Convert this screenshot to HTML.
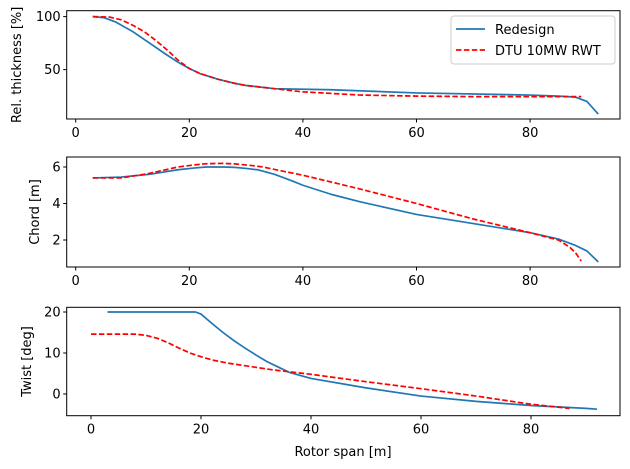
<!DOCTYPE html>
<html><head><meta charset="utf-8"><style>
body{margin:0;background:#fff}
svg{display:block;font-family:"DejaVu Sans","Liberation Sans",sans-serif}
</style></head><body>
<svg id="c" width="630" height="469"></svg>
<script>
const thickBlueX=[3,5,7,10,13,16,18,20,22,25,28,30,35,45,60,80,85,88,90,92];
const thickBlueY=[100,99,95,86,75,64,57,51,46,41,37,35,32,31,28,26,25,24,20,8];
const thickRedX=[3,6,8,10,12,14,16,18,20,22,25,28,30,35,40,50,60,70,80,85,89];
const thickRedY=[100,99.5,97,92,86,78,69,59,51,46,41,37,35,32,29,26,25,24.5,24.5,24.5,24.5];
const chordBlueX=[3,8,13,18,21,23,26,28,30,32,35,38,40,45,50,60,70,80,85,88,90,92];
const chordBlueY=[5.4,5.45,5.6,5.85,5.95,6.0,6.0,5.98,5.92,5.85,5.6,5.25,5.0,4.5,4.1,3.4,2.9,2.4,2.05,1.7,1.4,0.8];
const chordRedX=[3,8,13,18,21,23,26,28,31,33,36,40,50,60,70,80,85,87,88,89];
const chordRedY=[5.4,5.4,5.65,6.0,6.12,6.18,6.2,6.17,6.08,6.0,5.8,5.55,4.8,4.0,3.15,2.4,2.0,1.6,1.3,0.85];
const twistBlueX=[3,19,20,22,24,26,28,30,32,34,36,40,50,60,70,80,90,92];
const twistBlueY=[20,20,19.5,17.2,15,13,11.2,9.5,7.9,6.6,5.3,3.8,1.5,-0.5,-1.8,-2.8,-3.5,-3.7];
const twistRedX=[0,8,10,12,14,16,18,20,22,25,28,33,40,50,60,70,80,87];
const twistRedY=[14.6,14.6,14.3,13.6,12.5,11.2,10,9.1,8.3,7.5,6.9,5.9,4.8,3,1.3,-0.5,-2.5,-3.5];
const xTicks=[0,20,40,60,80];
const thickTicks=[50,100];
const chordTicks=[2,4,6];
const twistTicks=[0,10,20];

const svg=document.getElementById('c');
const NS='http://www.w3.org/2000/svg';
function el(t,a,p){const e=document.createElementNS(NS,t);for(const k in a)e.setAttribute(k,a[k]);(p||svg).appendChild(e);return e;}
const FS=13;
function panel(name,top,bot,x0,xs,y0,ys,yt,ylab,bx,by,rx,ry){
  const L=66.7,R=620;
  const X=v=>x0+v*xs, Y=v=>y0-v*ys;
  const g=el('g',{});
  
  
  const pb=el('polyline',{points:bx.map((v,i)=>X(v)+','+Y(by[i])).join(' '),fill:'none',stroke:'#1f77b4','stroke-width':1.7,'stroke-linejoin':'round'},g);
  
  
  const pr=el('polyline',{points:rx.map((v,i)=>X(v)+','+Y(ry[i])).join(' '),fill:'none',stroke:'red','stroke-width':1.7,'stroke-dasharray':'5.5,2.4'},g);
  
  
  const fr=el('rect',{x:L,y:top,width:R-L,height:bot-top,fill:'none',stroke:'#000','stroke-width':1},g);
  
  
  xTicks.forEach(t=>{el('line',{x1:X(t),x2:X(t),y1:bot,y2:bot+3.5,stroke:'#000'},g);
    const tx=el('text',{x:X(t),y:bot+18,'font-size':FS,'text-anchor':'middle'},g);tx.textContent=t;
    
    });
  yt.forEach(t=>{el('line',{x1:L,x2:L-3.5,y1:Y(t),y2:Y(t),stroke:'#000'},g);
    const tx=el('text',{x:L-6,y:Y(t)+4.5,'font-size':FS,'text-anchor':'end'},g);tx.textContent=t;
    
    });
  const yl=el('text',{x:0,y:0,'font-size':FS,'text-anchor':'middle',transform:`translate(${ylab},${(top+bot)/2}) rotate(-90)`},g);
  yl.textContent={thickness:'Rel. thickness [%]',chord:'Chord [m]',twist:'Twist [deg]'}[name];
  
  
}
panel('thickness',10.7,119,75.7,5.68,122.6,1.06,thickTicks,21,thickBlueX,thickBlueY,thickRedX,thickRedY);
panel('chord',157,267,75.7,5.68,276.5,18.25,chordTicks,39,chordBlueX,chordBlueY,chordRedX,chordRedY);
panel('twist',307.3,415.7,91,5.5,394,4.1,twistTicks,31,twistBlueX,twistBlueY,twistRedX,twistRedY);
const xl=el('text',{x:343,y:456,'font-size':FS,'text-anchor':'middle'});xl.textContent='Rotor span [m]';


const lg=el('g',{});


el('rect',{x:451,y:16,width:164,height:48,rx:3,fill:'#fff',stroke:'#ccc'},lg);
el('line',{x1:456,x2:485,y1:29,y2:29,stroke:'#1f77b4','stroke-width':1.7},lg);
el('line',{x1:456,x2:485,y1:50,y2:50,stroke:'red','stroke-width':1.7,'stroke-dasharray':'5.5,2.4'},lg);
const t1=el('text',{x:495,y:34,'font-size':FS},lg);t1.textContent='Redesign';


const t2=el('text',{x:495,y:55,'font-size':FS},lg);t2.textContent='DTU 10MW RWT';


</script>
</body></html>
